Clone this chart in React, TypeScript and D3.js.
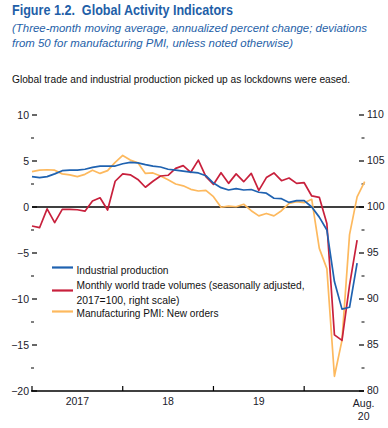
import { useEffect, useRef } from "react"
import * as d3 from "d3"

// monthly, Jan 2017 = 0
const industrialProduction = [
  3.3, 3.2, 3.3, 3.6, 3.95, 4.0, 4.0, 4.1, 4.3, 4.45, 4.45, 4.45,
  4.7, 4.85, 4.8, 4.6, 4.45, 4.35, 4.1, 4.0, 3.9, 3.8, 3.7, 3.4,
  2.6, 2.1, 1.85, 2.0, 1.85, 1.9, 1.6, 1.5, 0.95, 0.9, 0.5, 0.7,
  0.7, 0.0, -1.1, -2.5, -8.1, -11.1, -10.9, -6.1,
]
// right scale, 2017 = 100
const tradeVolumes = [
  97.93, 97.75, 99.8, 98.3, 99.75, 99.75, 99.7, 99.55, 100.65, 101.0, 99.67, 102.8,
  103.6, 103.5, 103.0, 102.15, 102.8, 103.37, 103.45, 104.2, 104.5, 103.77, 105.1, 103.3,
  102.45, 103.73, 102.57, 103.6, 102.75, 103.66, 101.8, 103.2, 103.7, 102.86, 103.15, 102.57,
  102.64, 101.2, 101.05, 98.2, 86.1, 85.5, 91.5, 96.4,
]
const pmiNewOrders = [
  3.85, 4.0, 4.05, 4.0, 3.6, 3.5, 3.3, 3.55, 4.0, 3.65, 3.95, 4.85,
  5.6, 5.1, 4.8, 3.65, 3.7, 3.37, 2.95, 2.5, 2.3, 1.92, 1.74, 1.8,
  1.12, -0.03, 0.1, 0.03, 0.3, -0.4, -0.97, -0.7, -0.97, -0.4, 0.4, 0.58,
  0.47, 0.84, -4.5, -6.7, -18.4, -14.5, -3.0, 1.1, 2.75,
]

const leftTicks = [-20, -15, -10, -5, 0, 5, 10]
const leftMinor = [-17.5, -12.5, -7.5, -2.5, 2.5, 7.5]
const rightTicks = [80, 85, 90, 95, 100, 105, 110]
const rightMinor = [82.5, 87.5, 92.5, 97.5, 102.5, 107.5]
const yearStarts = [0, 12, 24, 36]
const yearLabels = ["2017", "18", "19"]

const legendItems = [
  { lines: ["Industrial production"], color: "#1f62b0", lengths: [92] },
  { lines: ["Monthly world trade volumes (seasonally adjusted,", "2017=100, right scale)"], color: "#c8203c", lengths: [228, 103] },
  { lines: ["Manufacturing PMI: New orders"], color: "#fdb95e", lengths: [142] },
]

const narrow = "'Liberation Sans Narrow', 'Arial Narrow', 'Liberation Sans', Arial, sans-serif"
const plain = "'Liberation Sans', Arial, sans-serif"
const titleBlue = "#1f5fa8"

const App = () => {
  const svgRef = useRef<SVGSVGElement>(null)

  useEffect(() => {
    const svg = d3.select(svgRef.current)
    svg.selectAll("*").remove()

    const x = d3.scaleLinear().domain([0, 43]).range([32, 357.1])
    const yL = d3.scaleLinear().domain([-20, 10]).range([391, 115])
    const yR = d3.scaleLinear().domain([80, 110]).range([391, 115])

    // titles
    const head = svg.append("g").attr("font-family", narrow)
    head.append("text")
      .attr("x", 12).attr("y", 15)
      .attr("font-size", 14).attr("font-weight", "bold")
      .attr("fill", titleBlue)
      .style("white-space", "pre")
      .attr("textLength", 221).attr("lengthAdjust", "spacingAndGlyphs")
      .text("Figure 1.2.  Global Activity Indicators")
    head.append("text")
      .attr("x", 12).attr("y", 31.5)
      .attr("font-size", 11.5).attr("font-style", "italic")
      .attr("fill", titleBlue)
      .attr("textLength", 355).attr("lengthAdjust", "spacingAndGlyphs")
      .text("(Three-month moving average, annualized percent change; deviations")
    head.append("text")
      .attr("x", 12).attr("y", 46.5)
      .attr("font-size", 11.5).attr("font-style", "italic")
      .attr("fill", titleBlue)
      .attr("textLength", 281).attr("lengthAdjust", "spacingAndGlyphs")
      .text("from 50 for manufacturing PMI, unless noted otherwise)")
    head.append("text")
      .attr("x", 12).attr("y", 82.5)
      .attr("font-size", 10).attr("fill", "#111")
      .attr("textLength", 338).attr("lengthAdjust", "spacingAndGlyphs")
      .text("Global trade and industrial production picked up as lockdowns were eased.")

    // left axis
    const left = svg.append("g").attr("font-family", plain).attr("font-size", 10.5).attr("fill", "#1a1a2a")
    left.selectAll("line.major").data(leftTicks).join("line")
      .attr("x1", 32).attr("x2", 37)
      .attr("y1", d => yL(d)).attr("y2", d => yL(d))
      .attr("stroke", "#000").attr("stroke-width", 1.2)
    left.selectAll("line.minor").data(leftMinor).join("line")
      .attr("class", "minor")
      .attr("x1", 31).attr("x2", 34)
      .attr("y1", d => yL(d)).attr("y2", d => yL(d))
      .attr("stroke", "#000").attr("stroke-width", 1)
    left.selectAll("text").data(leftTicks).join("text")
      .attr("x", 29).attr("y", d => yL(d)).attr("dy", "0.35em")
      .attr("text-anchor", "end")
      .text(d => d < 0 ? `\u2212${-d}` : `${d}`)

    // right axis
    const right = svg.append("g").attr("font-family", plain).attr("font-size", 10.5).attr("fill", "#1a1a2a")
    right.selectAll("line.major").data(rightTicks).join("line")
      .attr("x1", 359).attr("x2", 364)
      .attr("y1", d => yR(d)).attr("y2", d => yR(d))
      .attr("stroke", "#000").attr("stroke-width", 1.2)
    right.selectAll("line.minor").data(rightMinor).join("line")
      .attr("class", "minor")
      .attr("x1", 361.5).attr("x2", 364.5)
      .attr("y1", d => yR(d)).attr("y2", d => yR(d))
      .attr("stroke", "#000").attr("stroke-width", 1)
    right.selectAll("text").data(rightTicks).join("text")
      .attr("x", 367).attr("y", d => yR(d)).attr("dy", "0.32em")
      .text(d => `${d}`)

    // bottom axis
    const bottom = svg.append("g").attr("font-family", plain).attr("font-size", 10.5).attr("fill", "#1a1a2a")
    bottom.append("line")
      .attr("x1", 31).attr("x2", 364).attr("y1", yL(-20)).attr("y2", yL(-20))
      .attr("stroke", "#000").attr("stroke-width", 1.3)
    bottom.selectAll("line.tick").data(yearStarts).join("line")
      .attr("class", "tick")
      .attr("x1", d => x(d)).attr("x2", d => x(d))
      .attr("y1", yL(-20)).attr("y2", yL(-20) - 5)
      .attr("stroke", "#000").attr("stroke-width", 1.2)
    bottom.selectAll("text.year").data(yearLabels).join("text")
      .attr("class", "year")
      .attr("x", (d, i) => x(yearStarts[i] + 6)).attr("y", 404.5)
      .attr("text-anchor", "middle")
      .text(d => d)
    bottom.append("text")
      .attr("x", x(44) - 1).attr("y", 406.5).attr("text-anchor", "middle")
      .text("Aug.")
    bottom.append("text")
      .attr("x", x(44) - 1).attr("y", 419.5).attr("text-anchor", "middle")
      .text("20")

    // zero line
    svg.append("line")
      .attr("x1", 32).attr("x2", 364).attr("y1", yL(0)).attr("y2", yL(0))
      .attr("stroke", "#000").attr("stroke-width", 1.3)

    // series
    const lineL = d3.line<number>().x((d, i) => x(i)).y(d => yL(d))
    const lineR = d3.line<number>().x((d, i) => x(i)).y(d => yR(d))
    const series = svg.append("g").attr("fill", "none").attr("stroke-linejoin", "round")
    series.append("path").attr("d", lineL(pmiNewOrders)).attr("stroke", "#fdb95e").attr("stroke-width", 1.7)
    series.append("path").attr("d", lineR(tradeVolumes)).attr("stroke", "#c8203c").attr("stroke-width", 1.7)
    series.append("path").attr("d", lineL(industrialProduction)).attr("stroke", "#1f62b0").attr("stroke-width", 1.7)

    // legend
    const legend = svg.append("g").attr("font-family", narrow).attr("font-size", 10.5).attr("fill", "#111")
    const legendY = [267.5, 290.5, 311.5]
    const legendBase = [[274], [288.5, 303.5], [317]]
    legendItems.forEach((item, i) => {
      legend.append("line")
        .attr("x1", 52).attr("x2", 73).attr("y1", legendY[i]).attr("y2", legendY[i])
        .attr("stroke", item.color).attr("stroke-width", 2.2)
      item.lines.forEach((t, j) => {
        legend.append("text")
          .attr("x", 76.5).attr("y", legendBase[i][j])
          .attr("textLength", item.lengths[j]).attr("lengthAdjust", "spacingAndGlyphs")
          .text(t)
      })
    })
  }, [])

  return (
    <svg
      ref={svgRef}
      width={388}
      height={428}
      style={{ position: "absolute", left: 0, top: 0, background: "#fff" }}
    />
  )
}

export default App
